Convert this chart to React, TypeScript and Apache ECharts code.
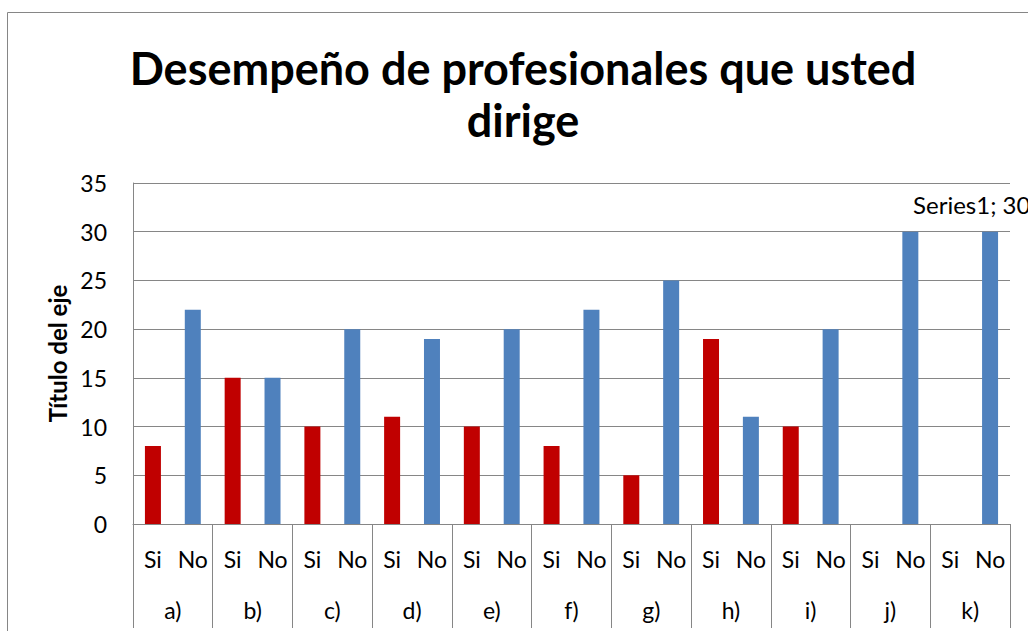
import React, { useEffect, useRef } from "react";
import * as echarts from "echarts";

const groups = ["a)", "b)", "c)", "d)", "e)", "f)", "g)", "h)", "i)", "j)", "k)"];
const subLabels = ["Si", "No"];
const siValues = [8, 15, 10, 11, 10, 8, 5, 19, 10, 0, 0];
const noValues = [22, 15, 20, 19, 20, 22, 25, 11, 20, 30, 30];
const yTicks = { min: 0, max: 35, interval: 5 };
const seriesName = "Series1";
const titleText = "Desempeño de profesionales que usted\ndirige";
const yAxisName = "Título del eje";
const siColor = "#C00000";
const noColor = "#4F81BD";

export default function App() {
  const ref = useRef<HTMLDivElement>(null);
  useEffect(() => {
    if (!ref.current) return;
    const chart = echarts.init(ref.current, undefined, { renderer: "svg" });
    const cats: string[] = [];
    const data: any[] = [];
    groups.forEach((g, i) => {
      cats.push(subLabels[0]);
      data.push({ value: siValues[i], itemStyle: { color: siColor } });
      cats.push(subLabels[1]);
      const item: any = { value: noValues[i], itemStyle: { color: noColor } };
      if (i === groups.length - 1) {
        item.label = {
          show: true,
          position: "top",
          align: "left",
          offset: [-77, -10],
          formatter: "{a}; {c}",
          fontFamily: "Lato",
          fontSize: 24,
          color: "#000",
        };
      }
      data.push(item);
    });
    const gray = "#868686";
    const font = "Lato";
    chart.setOption({
      animation: false,
      backgroundColor: "#fff",
      title: {
        text: titleText,
        left: 518,
        top: 37,
        textAlign: "center",
        textStyle: {
          fontFamily: font,
          fontWeight: "bold",
          fontSize: 45,
          lineHeight: 52,
          color: "#000",
        },
      },
      graphic: [
        {
          type: "rect",
          shape: { x: 7.5, y: 12.5, width: 1200, height: 800 },
          style: { fill: "none", stroke: gray, lineWidth: 1 },
          silent: true,
        },
      ],
      grid: { left: 133, top: 183, right: 18, bottom: 107, containLabel: false },
      xAxis: [
        {
          type: "category",
          data: cats,
          position: "bottom",
          axisLine: { show: true, lineStyle: { color: gray, width: 1 } },
          axisTick: { show: false },
          axisLabel: {
            interval: 0,
            margin: 23,
            fontFamily: font,
            fontSize: 23,
            color: "#000",
          },
        },
        {
          type: "category",
          data: groups,
          position: "bottom",
          axisLine: { show: false },
          axisTick: {
            show: true,
            interval: 0,
            length: 104,
            lineStyle: { color: gray, width: 1 },
          },
          axisLabel: {
            interval: 0,
            margin: 74,
            fontFamily: font,
            fontSize: 23,
            color: "#000",
          },
        },
      ],
      yAxis: {
        type: "value",
        min: yTicks.min,
        max: yTicks.max,
        interval: yTicks.interval,
        name: yAxisName,
        nameLocation: "middle",
        nameGap: 64,
        nameTextStyle: {
          fontFamily: font,
          fontWeight: "bold",
          fontSize: 24,
          color: "#000",
        },
        axisLine: { show: true, lineStyle: { color: gray, width: 1 } },
        axisTick: { show: false },
        axisLabel: {
          margin: 26,
          fontFamily: font,
          fontSize: 23,
          color: "#000",
        },
        splitLine: { show: true, lineStyle: { color: gray, width: 1 } },
      },
      series: [
        {
          name: seriesName,
          type: "bar",
          xAxisIndex: 0,
          barWidth: 16,
          data,
        },
      ],
    });
    return () => chart.dispose();
  }, []);
  return (
    <div
      ref={ref}
      style={{ position: "absolute", left: 0, top: 0, width: 1028, height: 631 }}
    />
  );
}
